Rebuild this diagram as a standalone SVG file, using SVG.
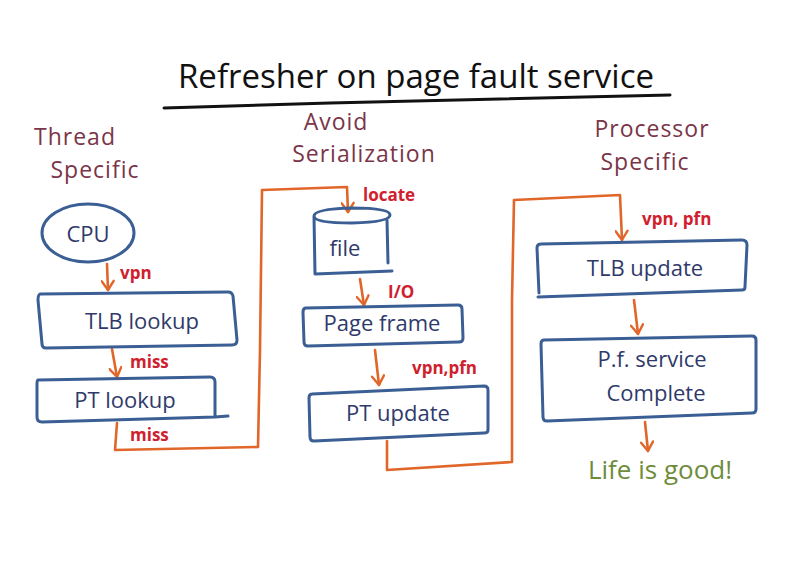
<svg xmlns="http://www.w3.org/2000/svg" width="803" height="577" viewBox="0 0 803 577">
<defs>
<marker id="ah" markerWidth="14" markerHeight="14" refX="11" refY="7" orient="auto" markerUnits="userSpaceOnUse" viewBox="0 0 14 14">
<path d="M2,1 L11,7 L2,13" fill="none" stroke="#e0662a" stroke-width="2.4" stroke-linecap="round" stroke-linejoin="round"/>
</marker>
<style>
.box{fill:none;stroke:#3b5f94;stroke-width:3;stroke-linejoin:round;stroke-linecap:round}
.node{font-family:"Open Sans","Liberation Sans",sans-serif;fill:#2f3a6b;font-size:22px;text-anchor:middle}
.head{font-family:"Open Sans","Liberation Sans",sans-serif;fill:#7a3548;font-size:23px;text-anchor:middle;letter-spacing:1px}
.lbl{font-family:"Open Sans","Liberation Sans",sans-serif;fill:#d0202e;font-size:17px;font-weight:bold}
.con{fill:none;stroke:#e0662a;stroke-width:2.6;stroke-linejoin:round;stroke-linecap:round}
</style>
</defs>
<rect width="803" height="577" fill="#ffffff"/>

<g id="title">
<text x="416" y="88" font-family="'Open Sans','Liberation Sans',sans-serif" font-size="33" fill="#111" text-anchor="middle">Refresher on page fault service</text>
<path d="M164,108 L330,103 L670,95" fill="none" stroke="#111" stroke-width="3" stroke-linecap="round"/>
</g>

<g id="headings">
<text class="head" x="75" y="145">Thread</text>
<text class="head" x="95" y="178">Specific</text>
<text class="head" x="336" y="130">Avoid</text>
<text class="head" x="364" y="162">Serialization</text>
<text class="head" x="652" y="137">Processor</text>
<text class="head" x="645" y="170">Specific</text>
</g>

<g id="connectors">
<path class="con" d="M107,264 L108,290" marker-end="url(#ah)"/>
<path class="con" d="M112,349 L117,377" marker-end="url(#ah)"/>
<path class="con" d="M117,423 L115,450 L258,447 L260,350 L262,190 L347,187 L348,212" marker-end="url(#ah)"/>
<path class="con" d="M360,279 L364,305" marker-end="url(#ah)"/>
<path class="con" d="M375,350 L379,385" marker-end="url(#ah)"/>
<path class="con" d="M387,441 L387,470 L512,462 L512,300 L514,200 L620,195 L622,240" marker-end="url(#ah)"/>
<path class="con" d="M634,300 L638,334" marker-end="url(#ah)"/>
<path class="con" d="M645,422 L648,451" marker-end="url(#ah)"/>
</g>

<g id="labels">
<text class="lbl" x="120" y="279">vpn</text>
<text class="lbl" x="130" y="368">miss</text>
<text class="lbl" x="130" y="441">miss</text>
<text class="lbl" x="363" y="201">locate</text>
<text class="lbl" x="388" y="298">I/O</text>
<text class="lbl" x="412" y="374">vpn,pfn</text>
<text class="lbl" x="642" y="225">vpn, pfn</text>
</g>

<g id="cpu">
<ellipse class="box" cx="88" cy="233" rx="46" ry="29"/>
<text class="node" x="88" y="242">CPU</text>
</g>

<g id="tlb-lookup">
<path class="box" d="M40,294 L228,292 Q232,292 233,296 L237,340 Q237,345 232,345 L46,348 Q42,348 42,344 L38,300 Q38,295 40,294 Z"/>
<text class="node" x="142" y="329">TLB lookup</text>
</g>

<g id="pt-lookup">
<path class="box" d="M38,380 L210,377 Q215,377 215,382 L215,417 L228,416 M215,417 L42,422 Q37,422 37,417 L37,384 Q37,380 38,380"/>
<text class="node" x="125" y="408">PT lookup</text>
</g>

<g id="file">
<path class="box" d="M314,216 Q314,209 352,208 Q390,208 390,215 Q390,222 352,223 Q314,223 314,216 Z M314,216 L315,274 L392,271 M387,220 L388,263"/>
<text class="node" x="345" y="256">file</text>
</g>

<g id="page-frame">
<path class="box" d="M306,308 L458,305 Q462,305 462,309 L463,338 Q463,342 459,342 L308,346 Q304,346 304,342 L303,312 Q303,308 306,308 Z"/>
<text class="node" x="382" y="331">Page frame</text>
</g>

<g id="pt-update">
<path class="box" d="M312,394 L484,386 Q488,386 488,390 L488,430 Q488,433 484,433 L314,441 Q310,441 310,437 L309,398 Q309,394 312,394 Z"/>
<text class="node" x="398" y="421">PT update</text>
</g>

<g id="tlb-update">
<path class="box" d="M541,244 L742,240 Q747,240 747,245 L745,287 Q745,290 742,290 L538,297 M541,244 Q537,244 537,248 L539,293"/>
<text class="node" x="645" y="276">TLB update</text>
</g>

<g id="pf-complete">
<path class="box" d="M544,340 L752,336 Q756,336 756,340 L756,409 Q756,413 752,413 L547,421 Q543,421 543,417 L541,344 Q541,340 544,340 Z"/>
<text class="node" x="652" y="367">P.f. service</text>
<text class="node" x="656" y="401">Complete</text>
</g>

<g id="life-good">
<text x="660" y="479" font-family="'Open Sans','Liberation Sans',sans-serif" font-size="26" fill="#6e8c3c" text-anchor="middle">Life is good!</text>
</g>
</svg>
